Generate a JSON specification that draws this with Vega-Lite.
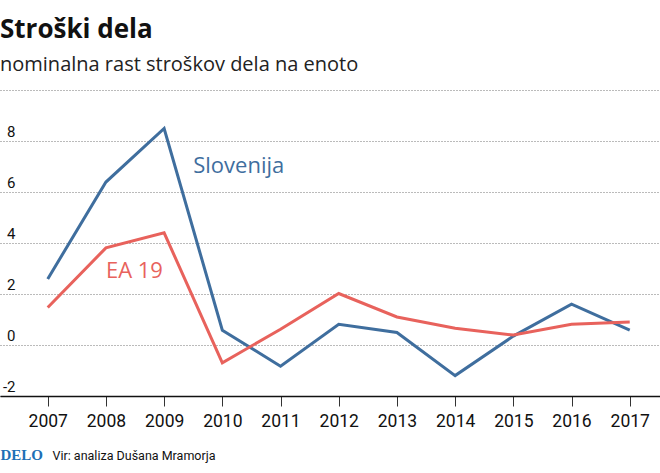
{
  "$schema": "https://vega.github.io/schema/vega-lite/v6.json",
  "width": 660,
  "height": 306,
  "autosize": "none",
  "padding": {"left": 0, "top": 90, "right": 0, "bottom": 77},
  "background": "white",
  "title": {
    "text": "Stroški dela",
    "subtitle": "nominalna rast stroškov dela na enoto",
    "anchor": "start",
    "frame": "group",
    "font": "Open Sans",
    "fontSize": 26,
    "fontWeight": "bold",
    "color": "#111111",
    "subtitleFont": "Open Sans",
    "subtitleFontSize": 20,
    "subtitleColor": "#222222",
    "subtitlePadding": 12,
    "offset": 15
  },
  "config": {
    "view": {"stroke": null},
    "axis": {"labelFlush": false}
  },
  "datasets": {
    "series": [
      {"year": 2007, "series": "Slovenija", "value": 2.59},
      {"year": 2008, "series": "Slovenija", "value": 6.39},
      {"year": 2009, "series": "Slovenija", "value": 8.49},
      {"year": 2010, "series": "Slovenija", "value": 0.58},
      {"year": 2011, "series": "Slovenija", "value": -0.83},
      {"year": 2012, "series": "Slovenija", "value": 0.81},
      {"year": 2013, "series": "Slovenija", "value": 0.49},
      {"year": 2014, "series": "Slovenija", "value": -1.2},
      {"year": 2015, "series": "Slovenija", "value": 0.35},
      {"year": 2016, "series": "Slovenija", "value": 1.6},
      {"year": 2017, "series": "Slovenija", "value": 0.58},
      {"year": 2007, "series": "EA 19", "value": 1.47},
      {"year": 2008, "series": "EA 19", "value": 3.81},
      {"year": 2009, "series": "EA 19", "value": 4.4},
      {"year": 2010, "series": "EA 19", "value": -0.7},
      {"year": 2011, "series": "EA 19", "value": 0.62},
      {"year": 2012, "series": "EA 19", "value": 2.02},
      {"year": 2013, "series": "EA 19", "value": 1.1},
      {"year": 2014, "series": "EA 19", "value": 0.66},
      {"year": 2015, "series": "EA 19", "value": 0.39},
      {"year": 2016, "series": "EA 19", "value": 0.81},
      {"year": 2017, "series": "EA 19", "value": 0.9}
    ],
    "labels": [
      {"year": 2009.5, "value": 6.75, "series": "Slovenija"},
      {"year": 2008.0, "value": 2.62, "series": "EA 19"}
    ]
  },
  "layer": [
    {
      "data": {"name": "series"},
      "mark": {"type": "line", "strokeWidth": 3, "strokeJoin": "miter", "strokeCap": "butt"},
      "encoding": {
        "x": {
          "field": "year",
          "type": "quantitative",
          "scale": {"domain": [2006.18, 2017.52], "nice": false, "zero": false},
          "axis": {
            "values": [2007, 2008, 2009, 2010, 2011, 2012, 2013, 2014, 2015, 2016, 2017],
            "format": "d",
            "grid": false,
            "domainColor": "#111111",
            "domainWidth": 1.5,
            "tickColor": "#333333",
            "tickWidth": 1,
            "tickSize": 10,
            "labelFont": "Roboto",
            "labelFontSize": 17.5,
            "labelColor": "#111111",
            "labelPadding": 6,
            "title": "Vir: analiza Dušana Mramorja",
            "titleFont": "Roboto",
            "titleFontSize": 12.5,
            "titleFontWeight": "normal",
            "titleColor": "#111111",
            "titleAnchor": "start",
            "titleAlign": "left",
            "titleBaseline": "alphabetic",
            "titleX": 52,
            "titleY": 63
          }
        },
        "y": {
          "field": "value",
          "type": "quantitative",
          "scale": {"domain": [-2, 10], "nice": false, "zero": false},
          "axis": {
            "values": [-2, 0, 2, 4, 6, 8, 10],
            "labelExpr": "datum.value == 10 ? '' : (datum.value < 0 ? '-' + abs(datum.value) : '' + datum.value)",
            "ticks": false,
            "domain": false,
            "grid": true,
            "gridColor": "#777777",
            "gridDash": [1, 2],
            "gridWidth": 1,
            "labelAlign": "right",
            "labelBaseline": "alphabetic",
            "labelPadding": -15,
            "labelOffset": -5,
            "labelFont": "Roboto",
            "labelFontSize": 15,
            "labelColor": "#111111",
            "title": "DELO",
            "titleAngle": 0,
            "titleX": 0,
            "titleY": 369,
            "titleAlign": "left",
            "titleBaseline": "alphabetic",
            "titleFont": "Liberation Serif",
            "titleFontSize": 15,
            "titleFontWeight": "bold",
            "titleColor": "#1d6fb5"
          }
        },
        "color": {
          "field": "series",
          "type": "nominal",
          "scale": {"domain": ["Slovenija", "EA 19"], "range": ["#3f6e9e", "#e8625c"]},
          "legend": null
        }
      }
    },
    {
      "data": {"name": "labels"},
      "mark": {"type": "text", "align": "left", "baseline": "alphabetic", "font": "Open Sans", "fontSize": 22, "fontWeight": 500},
      "encoding": {
        "x": {"field": "year", "type": "quantitative"},
        "y": {"field": "value", "type": "quantitative"},
        "text": {"field": "series"},
        "color": {"field": "series", "type": "nominal"}
      }
    }
  ]
}
